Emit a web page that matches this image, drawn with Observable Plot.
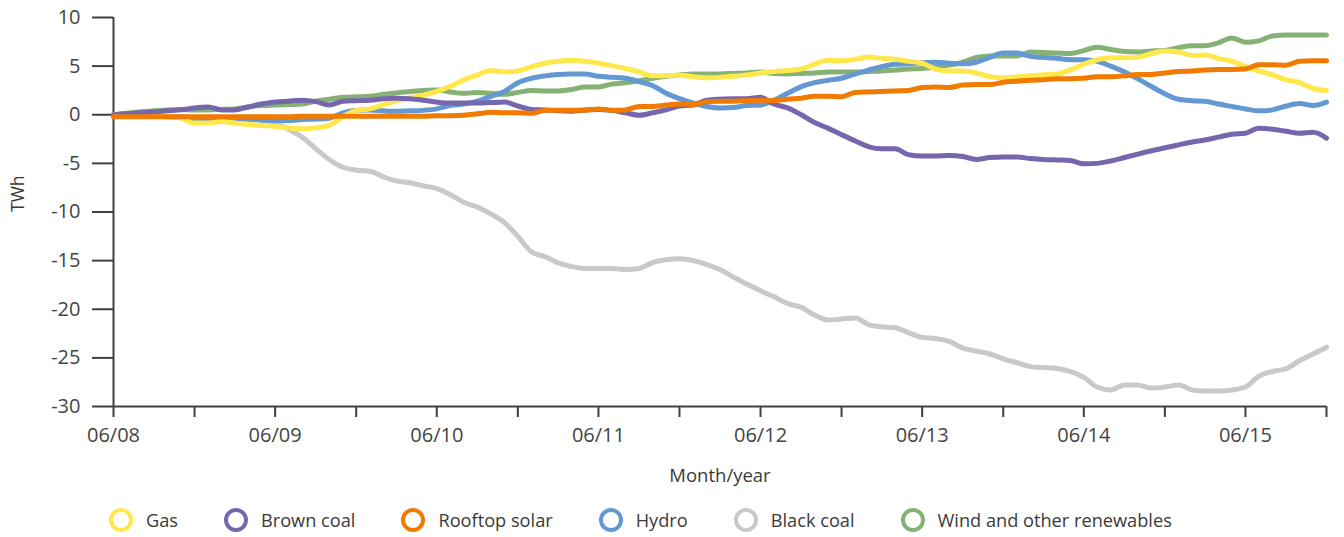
<!DOCTYPE html>
<html>
<head>
<meta charset="utf-8">
<script src="https://cdn.jsdelivr.net/npm/d3@7"></script>
<script src="https://cdn.jsdelivr.net/npm/@observablehq/plot@0.6"></script>
<style>
  html, body { margin: 0; padding: 0; background: #fff; }
  body { width: 1344px; height: 537px; overflow: hidden; font-family: "Open Sans", sans-serif; }
  #legend { display: flex; align-items: center; height: 46px; padding-left: 109px; gap: 0; }
  .item { display: flex; align-items: center; margin-right: 46px; }
  .ring { width: 24px; height: 24px; box-sizing: border-box; border-radius: 50%; border: 4px solid; margin-right: 13px; }
  .lab { font-size: 18.2px; color: #3a3a3a; }
</style>
</head>
<body>
<div id="chart"></div>
<div id="legend"></div>
<script>
// Monthly values, June 2008 .. December 2015 (TWh change)
const gas = [0, 0, 0, -0.05, -0.15, -0.35, -0.85, -0.85, -0.7, -0.85, -1.0, -1.1, -1.2, -1.35, -1.45, -1.35, -1.1, -0.2, 0.45, 0.6, 1.05, 1.4, 1.75,
  2.0, 2.4, 2.9, 3.6, 4.1, 4.55, 4.4, 4.5, 4.95, 5.3, 5.5, 5.6, 5.5, 5.3, 5.05, 4.75, 4.4, 4.0, 4.0, 4.1, 3.9, 3.8, 3.85,
  3.95, 4.1, 4.3, 4.45, 4.55, 4.7, 5.2, 5.6, 5.55, 5.7, 5.95, 5.8, 5.7, 5.5, 5.3, 4.7, 4.5, 4.5, 4.3, 3.9, 3.8, 3.9, 4.0,
  4.1, 4.2, 4.6, 5.2, 5.65, 5.85, 5.85, 5.9, 6.3, 6.55, 6.45, 6.1, 6.15, 5.8, 5.5, 4.95, 4.5, 4.1, 3.6, 3.3, 2.7, 2.5];
const brownCoal = [0, 0.1, 0.2, 0.3, 0.4, 0.5, 0.7, 0.8, 0.5, 0.5, 0.8, 1.1, 1.3, 1.4, 1.5, 1.35, 1.0, 1.4, 1.45, 1.5, 1.65, 1.7, 1.65,
  1.5, 1.3, 1.2, 1.2, 1.2, 1.25, 1.3, 0.9, 0.55, 0.5, 0.4, 0.35, 0.5, 0.55, 0.45, 0.2, -0.05, 0.2, 0.5, 0.9, 1.0, 1.5, 1.6,
  1.65, 1.65, 1.8, 1.1, 0.7, 0.0, -0.8, -1.4, -2.05, -2.7, -3.3, -3.5, -3.5, -4.1, -4.25, -4.25, -4.2, -4.3, -4.6, -4.4, -4.35, -4.35, -4.5,
  -4.6, -4.65, -4.7, -5.05, -5.0, -4.75, -4.4, -4.05, -3.7, -3.4, -3.1, -2.8, -2.6, -2.3, -2.0, -1.9, -1.4, -1.5, -1.7, -1.9, -1.8, -2.4];
const rooftopSolar = [-0.2, -0.2, -0.2, -0.2, -0.2, -0.2, -0.2, -0.2, -0.2, -0.2, -0.2, -0.2, -0.2, -0.2, -0.15, -0.15, -0.15, -0.15, -0.15, -0.15, -0.15, -0.15, -0.15,
  -0.15, -0.1, -0.1, -0.05, 0.1, 0.25, 0.2, 0.2, 0.15, 0.45, 0.45, 0.45, 0.45, 0.6, 0.45, 0.5, 0.85, 0.85, 1.0, 1.1, 1.05, 1.35, 1.4,
  1.4, 1.45, 1.5, 1.45, 1.6, 1.7, 1.9, 1.9, 1.85, 2.3, 2.35, 2.4, 2.45, 2.5, 2.8, 2.85, 2.8, 3.05, 3.1, 3.1, 3.35, 3.45, 3.55,
  3.6, 3.7, 3.7, 3.75, 3.9, 3.9, 4.0, 4.15, 4.15, 4.3, 4.45, 4.5, 4.6, 4.65, 4.65, 4.7, 5.15, 5.15, 5.1, 5.5, 5.55, 5.55];
const hydro = [0, -0.05, -0.1, -0.15, -0.2, -0.3, -0.5, -0.4, -0.3, -0.35, -0.45, -0.55, -0.6, -0.6, -0.5, -0.45, -0.35, 0.2, 0.45, 0.5, 0.4, 0.35, 0.4,
  0.45, 0.6, 0.95, 1.1, 1.4, 1.9, 2.4, 3.3, 3.75, 4.0, 4.15, 4.2, 4.2, 3.95, 3.85, 3.75, 3.4, 3.0, 2.2, 1.65, 1.2, 0.85, 0.7,
  0.75, 0.95, 1.0, 1.5, 2.2, 2.9, 3.3, 3.55, 3.75, 4.2, 4.6, 4.95, 5.2, 5.25, 5.35, 5.4, 5.3, 5.25, 5.4, 5.9, 6.35, 6.35, 6.0,
  5.9, 5.8, 5.65, 5.65, 5.5, 5.0, 4.4, 3.7, 2.9, 2.15, 1.6, 1.45, 1.4, 1.1, 0.85, 0.6, 0.4, 0.5, 0.9, 1.15, 0.95, 1.3];
const blackCoal = [0, 0, -0.05, -0.1, -0.15, -0.2, -0.25, -0.3, -0.35, -0.4, -0.45, -0.55, -0.8, -1.5, -2.3, -3.5, -4.6, -5.4, -5.7, -5.8, -6.4, -6.8, -7.0,
  -7.3, -7.6, -8.2, -9.0, -9.5, -10.2, -11.1, -12.5, -14.1, -14.6, -15.2, -15.6, -15.8, -15.8, -15.8, -15.9, -15.8, -15.2, -14.9, -14.8, -15.0, -15.4, -15.9,
  -16.7, -17.4, -18.1, -18.7, -19.4, -19.8, -20.6, -21.1, -21.0, -20.9, -21.6, -21.8, -21.9, -22.4, -22.9, -23.0, -23.3, -24.0, -24.3, -24.6, -25.1, -25.5, -25.9,
  -26.0, -26.1, -26.4, -27.0, -28.0, -28.3, -27.8, -27.8, -28.1, -28.0, -27.8, -28.3, -28.4, -28.4, -28.3, -28.0, -26.9, -26.4, -26.1, -25.3, -24.6, -23.9];
const wind = [0, 0.15, 0.3, 0.4, 0.5, 0.55, 0.5, 0.5, 0.55, 0.6, 0.8, 0.95, 1.0, 1.05, 1.1, 1.4, 1.6, 1.8, 1.85, 1.9, 2.1, 2.25, 2.4,
  2.5, 2.55, 2.35, 2.2, 2.3, 2.2, 2.1, 2.3, 2.5, 2.45, 2.45, 2.6, 2.85, 2.85, 3.15, 3.3, 3.5, 3.75, 3.95, 4.1, 4.2, 4.2, 4.2,
  4.25, 4.3, 4.4, 4.25, 4.2, 4.25, 4.3, 4.4, 4.4, 4.4, 4.45, 4.5, 4.6, 4.7, 4.75, 4.9, 5.1, 5.4, 5.9, 6.05, 6.05, 6.05, 6.45,
  6.4, 6.35, 6.3, 6.6, 6.95, 6.7, 6.5, 6.45, 6.55, 6.6, 6.9, 7.1, 7.1, 7.4, 7.9, 7.45, 7.6, 8.1, 8.2, 8.2, 8.2, 8.2];

const seriesNames = ["Gas", "Brown coal", "Rooftop solar", "Hydro", "Black coal", "Wind and other renewables"];
const seriesColors = ["#FFE84C", "#7666AE", "#F17A00", "#6398D2", "#C9C9C9", "#86B174"];
const drawOrder = ["Wind and other renewables", "Black coal", "Hydro", "Gas", "Brown coal", "Rooftop solar"];
const yTicks = [10, 5, 0, -5, -10, -15, -20, -25, -30];
const xTickLabels = ["06/08", "06/09", "06/10", "06/11", "06/12", "06/13", "06/14", "06/15"];

const seriesValues = [gas, brownCoal, rooftopSolar, hydro, blackCoal, wind];
const months = d3.range(gas.length).map(i => new Date(Date.UTC(2008, 5 + i, 1)));
const rows = drawOrder.flatMap(name => {
  const vals = seriesValues[seriesNames.indexOf(name)];
  return vals.map((v, j) => ({series: name, date: months[j], value: v}));
});
const xTickDates = d3.range(0, months.length, 6).map(i => months[i]);
const fmtTick = d => d.getUTCMonth() === 5 ? xTickLabels[d.getUTCFullYear() - 2008] : "";

const chart = Plot.plot({
  width: 1344,
  height: 497,
  marginLeft: 113,
  marginRight: 18,
  marginTop: 17,
  marginBottom: 91,
  style: {fontFamily: "'Open Sans', sans-serif", fontSize: "20px", color: "#444", background: "#fff"},
  x: {type: "utc", domain: [months[0], months[months.length - 1]]},
  y: {domain: [-30, 10]},
  color: {domain: seriesNames, range: seriesColors},
  marks: [
    Plot.axisY({ticks: yTicks, tickSize: 21, tickPadding: 12, tickFormat: d => String(d), label: null, stroke: "#404040", strokeWidth: 2, fontSize: 20}),
    Plot.axisX({ticks: xTickDates, tickSize: 11, tickPadding: 10, tickFormat: fmtTick, label: null, stroke: "#404040", strokeWidth: 2, fontSize: 20}),
    Plot.ruleX([months[0]], {y1: -30, y2: 10, stroke: "#404040", strokeWidth: 2}),
    Plot.ruleY([-30], {stroke: "#404040", strokeWidth: 2}),
    Plot.line(rows, {x: "date", y: "value", z: "series", stroke: "series", strokeWidth: 5, curve: "monotone-x", strokeLinejoin: "round", strokeLinecap: "round"}),
    Plot.text(["Month/year"], {frameAnchor: "bottom", dy: 75, fontSize: 18.5, fill: "#3a3a3a"}),
    Plot.text(["TWh"], {frameAnchor: "left", dx: -95, rotate: -90, fontSize: 17.5, fill: "#3a3a3a"})
  ]
});
document.getElementById("chart").appendChild(chart);

const legend = document.getElementById("legend");
seriesNames.forEach((name, i) => {
  const item = document.createElement("div");
  item.className = "item";
  const ring = document.createElement("div");
  ring.className = "ring";
  ring.style.borderColor = seriesColors[i];
  const lab = document.createElement("span");
  lab.className = "lab";
  lab.textContent = name;
  item.appendChild(ring);
  item.appendChild(lab);
  legend.appendChild(item);
});
</script>
</body>
</html>
